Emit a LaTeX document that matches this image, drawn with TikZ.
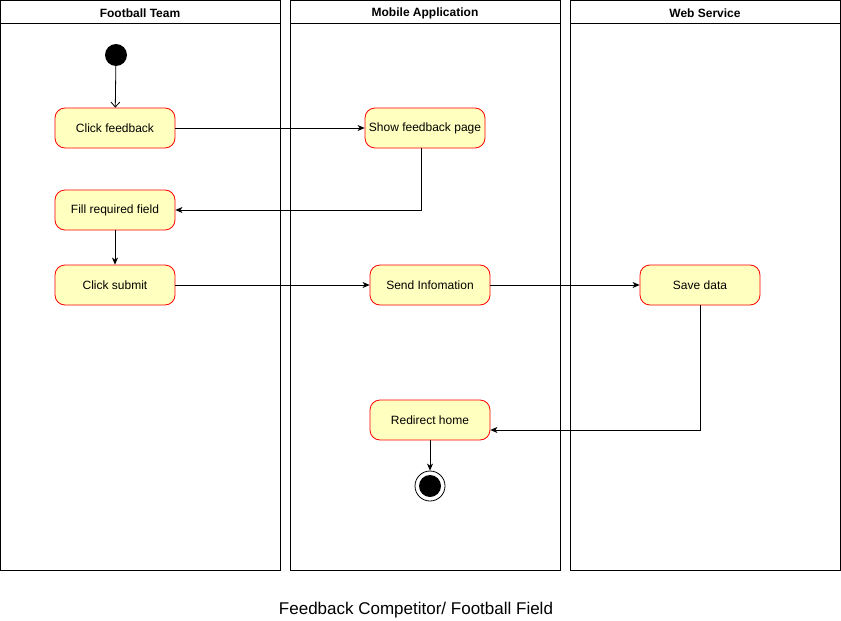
\documentclass[tikz,border=0pt]{standalone}
\usepackage{fontspec}
\setmainfont{Liberation Sans}
\usetikzlibrary{arrows.meta,calc}
\definecolor{actfill}{HTML}{FFFFC0}
\definecolor{actline}{HTML}{FF0000}
\tikzset{
  lane/.style={draw=black, line width=1pt},
  lanetitle/.style={font=\fontsize{12}{14}\selectfont\bfseries, anchor=center},
  act/.style={draw=actline, fill=actfill, rounded corners=10pt, minimum width=120pt, minimum height=40pt, inner sep=0pt, font=\fontsize{12}{14}\selectfont, line width=0.8pt},
  flow/.style={draw=black, line width=0.8pt, -{Stealth[length=7pt,width=6pt,inset=2pt]}},
  openflow/.style={draw=black, line width=0.8pt, -{Straight Barb[length=5pt,width=9pt]}},
}
\begin{document}
\begin{tikzpicture}[x=1pt,y=-1pt]
\useasboundingbox (0,0) rectangle (841,621);
\fill[white] (0,0) rectangle (841,621);
% lanes
\draw[lane] (0.5,0.5) rectangle (280,570);
\draw[lane] (0.5,23) -- (280,23);
\draw[lane] (290,0.5) rectangle (560,570);
\draw[lane] (290,23) -- (560,23);
\draw[lane] (570,0.5) rectangle (840,570);
\draw[lane] (570,23) -- (840,23);
\node[lanetitle] (t1) at (140,13.5) {Football Team};
\node[lanetitle] (t2) at (425,13.5) {Mobile Application};
\node[lanetitle] (t3) at (705,13.5) {Web Service};
% start
\node[circle, fill=black, minimum size=22pt, inner sep=0pt] (start) at (116,55) {};
% activities
\node[act] (click) at (115,128) {Click feedback};
\node[act] (show) at (425,128) {Show feedback page};
\node[act] (fill) at (115,210) {Fill required field};
\node[act] (submit) at (115,285) {Click submit};
\node[act] (send) at (430,285) {Send Infomation};
\node[act] (save) at (700,285) {Save data};
\node[act] (redir) at (430,420) {Redirect home};
% end
\node[circle, draw=black, fill=white, line width=0.8pt, minimum size=30pt, inner sep=0pt] (endo) at (430,486) {};
\node[circle, fill=black, minimum size=22pt, inner sep=0pt] (endi) at (430,486) {};
% connectors
\draw[openflow] (start) -- (click);
\draw[flow] (click) -- (show);
\draw[flow] (show.south -| 421,0) |- (fill.east);
\draw[flow] (fill) -- (submit);
\draw[flow] (submit) -- (send);
\draw[flow] (send) -- (save);
\draw[flow] (save.south) |- ($(redir.east)+(0,10)$);
\draw[flow] (redir) -- (endo);
% caption
\node[font=\fontsize{17}{20}\selectfont] (cap) at (416,610) {Feedback Competitor/ Football Field};
\end{tikzpicture}
\end{document}
